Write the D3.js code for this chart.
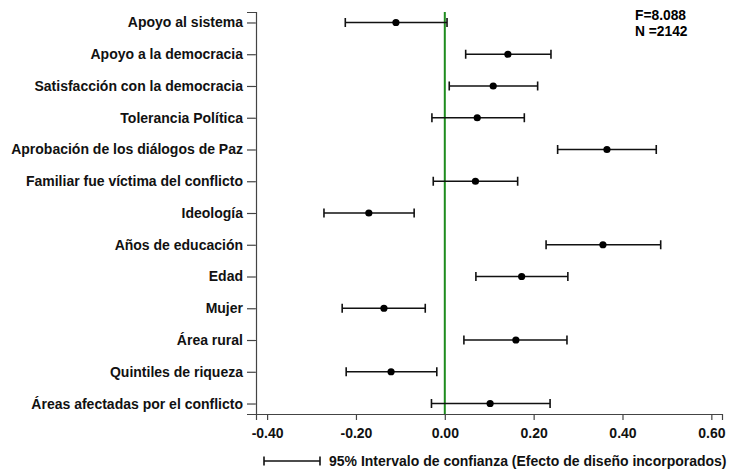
<!DOCTYPE html>
<meta charset="utf-8">
<script src="https://d3js.org/d3.v7.min.js"></script>
<style>
  body { margin: 0; background: #fff; }
  text { font-family: "Liberation Sans", Arial, sans-serif; font-weight: bold; }
</style>
<div id="my_dataviz"></div>
<script>
var variables = ["Apoyo al sistema", "Apoyo a la democracia", "Satisfacción con la democracia",
  "Tolerancia Política", "Aprobación de los diálogos de Paz", "Familiar fue víctima del conflicto",
  "Ideología", "Años de educación", "Edad", "Mujer", "Área rural", "Quintiles de riqueza",
  "Áreas afectadas por el conflicto"];
var coef  = [-0.110, 0.142, 0.109, 0.073, 0.365, 0.069, -0.171, 0.356, 0.173, -0.137, 0.160, -0.121, 0.102];
var lower = [-0.224, 0.047, 0.010, -0.029, 0.254, -0.026, -0.272, 0.228, 0.070, -0.231, 0.043, -0.222, -0.030];
var upper = [0.005, 0.239, 0.209, 0.179, 0.476, 0.164, -0.069, 0.486, 0.277, -0.044, 0.275, -0.018, 0.237];
var xTicks = [-0.4, -0.2, 0, 0.2, 0.4, 0.6];

var width = 739, height = 470;
var svg = d3.select("#my_dataviz").append("svg")
  .attr("width", width).attr("height", height);

var x = d3.scaleLinear().domain([-0.425, 0.624]).range([256, 722]);
var y = d3.scalePoint().domain(variables).range([12, 414]).padding(0.33);

var fmt = d => d3.format(".2f")(d).replace("−", "-");

// x axis
var gx = svg.append("g")
  .attr("transform", "translate(0,414)")
  .call(d3.axisBottom(x).tickValues(xTicks).tickFormat(fmt).tickSizeOuter(0).tickSize(6));
gx.selectAll("text").attr("font-size", 14).attr("dy", "1.05em").attr("fill", "#111");
gx.selectAll("line, path").attr("stroke", "#444").attr("stroke-width", 1.2);

// y axis
var gy = svg.append("g")
  .attr("transform", "translate(256,0)")
  .call(d3.axisLeft(y).tickSizeOuter(0).tickSize(9).tickPadding(4));
gy.selectAll("text").attr("font-size", 14).attr("fill", "#111");
gy.selectAll("line, path").attr("stroke", "#444").attr("stroke-width", 1.2);

// reference line at zero
svg.append("line")
  .attr("x1", x(0)).attr("x2", x(0))
  .attr("y1", 12).attr("y2", 414)
  .attr("stroke", "#1e8c1e").attr("stroke-width", 2);

var data = variables.map((v, i) => ({name: v, est: coef[i], lo: lower[i], hi: upper[i]}));
var cap = 4.5;

var g = svg.append("g").selectAll("g").data(data).enter().append("g");
g.append("line")
  .attr("x1", d => x(d.lo)).attr("x2", d => x(d.hi))
  .attr("y1", d => y(d.name)).attr("y2", d => y(d.name))
  .attr("stroke", "#111").attr("stroke-width", 1.6);
g.append("line")
  .attr("x1", d => x(d.lo)).attr("x2", d => x(d.lo))
  .attr("y1", d => y(d.name) - cap).attr("y2", d => y(d.name) + cap)
  .attr("stroke", "#111").attr("stroke-width", 1.6);
g.append("line")
  .attr("x1", d => x(d.hi)).attr("x2", d => x(d.hi))
  .attr("y1", d => y(d.name) - cap).attr("y2", d => y(d.name) + cap)
  .attr("stroke", "#111").attr("stroke-width", 1.6);
g.append("circle")
  .attr("cx", d => x(d.est)).attr("cy", d => y(d.name))
  .attr("r", 3.6).attr("fill", "#000");

// stats
svg.append("text").attr("x", 635).attr("y", 20).attr("font-size", 13.8).text("F=8.088");
svg.append("text").attr("x", 635).attr("y", 36).attr("font-size", 13.8).text("N =2142");

// legend
var leg = svg.append("g").attr("transform", "translate(0,461)");
leg.append("line").attr("x1", 264).attr("x2", 320).attr("stroke", "#111").attr("stroke-width", 1.6);
leg.append("line").attr("x1", 264).attr("x2", 264).attr("y1", -cap).attr("y2", cap).attr("stroke", "#111").attr("stroke-width", 1.6);
leg.append("line").attr("x1", 320).attr("x2", 320).attr("y1", -cap).attr("y2", cap).attr("stroke", "#111").attr("stroke-width", 1.6);
leg.append("text").attr("x", 329).attr("y", 5).attr("font-size", 14).attr("fill", "#111")
  .text("95% Intervalo de confianza (Efecto de diseño incorporados)");
</script>
